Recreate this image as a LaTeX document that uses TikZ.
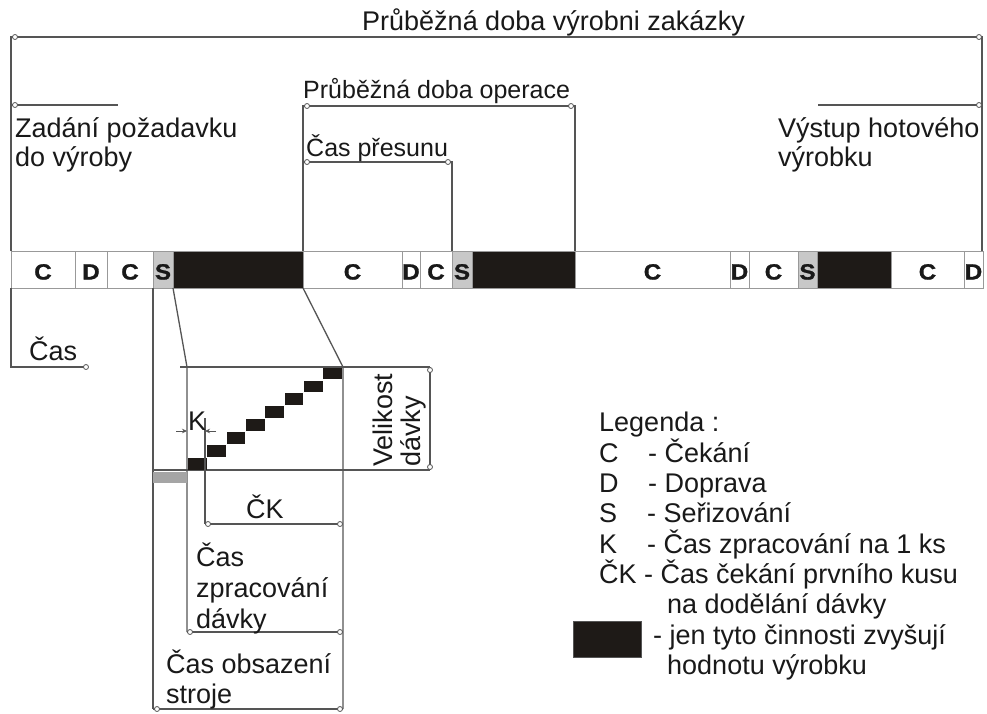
\documentclass[tikz,border=0pt]{standalone}
\usepackage{fontspec}
\setmainfont{Liberation Sans}
\newfontfamily\barfont{Liberation Sans}[BoldFeatures={FakeBold=1.2}]
\usetikzlibrary{arrows.meta}
\definecolor{lncol}{RGB}{85,85,85}
\definecolor{blk}{RGB}{30,26,23}
\definecolor{sgray}{RGB}{200,200,200}
\definecolor{bgray}{RGB}{165,165,165}
\definecolor{txt}{RGB}{25,25,25}
\begin{document}
\begin{tikzpicture}[x=1pt,y=-1pt,
  dim/.style={draw=lncol, line width=1.3pt},
  endc/.style={draw=lncol, fill=white, line width=0.8pt},
  lbl/.style={inner sep=0pt, anchor=base west, text=txt, font=\fontsize{27}{31}\selectfont},
  lbls/.style={lbl, font=\fontsize{25}{29}\selectfont},
  cellbox/.style={draw=lncol!60, line width=1pt},
  celltxt/.style={inner sep=0pt, anchor=base, text=txt, xscale=1.1, font=\barfont\fontsize{22}{26}\selectfont\bfseries},
]
\useasboundingbox[fill=white] (0,0) rectangle (987,713);

% ---------- bar of activities (0 white, 1 setup, 2 value-adding) ----------
\foreach \a/\b/\t/\k [count=\n] in {
  11/75/C/0, 75/107/D/0, 107/153/C/0, 153/173/S/1, 173/303//2,
  303/402/C/0, 402/420/D/0, 420/452/C/0, 452/472/S/1, 472/575//2,
  575/730/C/0, 730/749/D/0, 749/798/C/0, 798/817/S/1, 817/891//2,
  891/964/C/0, 964/983/D/0}{
  \ifcase\k
    \path[cellbox, fill=white] (\a,251) rectangle (\b,288);
  \or
    \path[cellbox, fill=sgray] (\a,251) rectangle (\b,288);
  \or
    \path[cellbox, fill=blk] (\a,251) rectangle (\b,288);
  \fi
  \node[celltxt] (cell\n) at ({(\a+\b)/2},279.5) {\t};
}

% ---------- top dimension lines ----------
\draw[dim] (11,251) -- (11,37) -- (982,37) -- (982,251);
\draw[endc] (15,37) circle[radius=2.5];
\draw[endc] (979,37) circle[radius=2.5];
\node[lbl] (total) at (362,30) {Průběžná doba výrobni zakázky};

\draw[dim] (11,105) -- (118,105);
\draw[endc] (15,105) circle[radius=2.5];
\node[lbl] (zad1) at (15,137) {Zadání požadavku};
\node[lbl] (zad2) at (15,166) {do výroby};

\draw[dim] (818,105) -- (982,105);
\draw[endc] (979,105) circle[radius=2.5];
\node[lbl] (vys1) at (778,137) {Výstup hotového};
\node[lbl] (vys2) at (778,166) {výrobku};

\draw[dim] (303,251) -- (303,106) -- (575,106) -- (575,251);
\draw[endc] (307,106) circle[radius=2.5];
\draw[endc] (571,106) circle[radius=2.5];
\node[lbls] (oper) at (303,98) {Průběžná doba operace};

\draw[dim] (303,162) -- (452,162) -- (452,251);
\draw[endc] (307,162) circle[radius=2.5];
\draw[endc] (448,162) circle[radius=2.5];
\node[lbls] (pres) at (306,156) {Čas přesunu};

% ---------- time axis ----------
\draw[dim] (11,288) -- (11,367) -- (84,367);
\draw[endc] (86,367) circle[radius=2.5];
\node[lbl] (cas) at (29,360) {Čas};

% ---------- detail of batch processing ----------
\draw[dim] (153,288) -- (153,709);
\draw[dim] (173,288) -- (187,367) -- (187,632);
\draw[dim] (303,288) -- (343,367) -- (343,709);
\draw[dim] (180,367) -- (430,367);
\draw[dim] (153,470) -- (430,470);
\draw[dim] (430,367) -- (430,470);
\draw[endc] (430,370) circle[radius=2.5];
\draw[endc] (430,467) circle[radius=2.5];
\fill[bgray] (153,472) rectangle (187,483);

\foreach \i in {0,...,7}{
  \fill[blk] ({188+19.35*\i},{469.5-12.9*\i}) rectangle ++(18.5,-11.6);
}

\node[lbl, rotate=90] (vel1) at (392,467) {Velikost};
\node[lbl, rotate=90] (vel2) at (420,467) {dávky};

% K dimension
\draw[dim] (205,418) -- (205,524);
\draw[draw=lncol, line width=0.8pt, -{Stealth[length=5pt,width=4.5pt]}] (176,431) -- (187,431);
\draw[draw=lncol, line width=0.8pt, -{Stealth[length=5pt,width=4.5pt]}] (216,431) -- (205,431);
\node[lbl] (k) at (188,430) {K};

% CK
\draw[dim] (205,524) -- (343,524);
\draw[endc] (208,524) circle[radius=2.5];
\draw[endc] (340,524) circle[radius=2.5];
\node[lbl] (ck) at (246,518) {ČK};

% processing time of batch
\draw[dim] (187,632) -- (343,632);
\draw[endc] (190,632) circle[radius=2.5];
\draw[endc] (340,632) circle[radius=2.5];
\node[lbl] (zpr1) at (196,566) {Čas};
\node[lbl] (zpr2) at (196,597) {zpracování};
\node[lbl] (zpr3) at (196,628) {dávky};

% machine occupation time
\draw[dim] (153,709) -- (343,709);
\draw[endc] (157,709) circle[radius=2.5];
\draw[endc] (340,709) circle[radius=2.5];
\node[lbl] (obs1) at (166,673) {Čas obsazení};
\node[lbl] (obs2) at (166,703) {stroje};

% ---------- legend ----------
\node[lbl] (leg) at (599,431) {Legenda :};
\node[lbl] (lc) at (599,462) {C};
\node[lbl] (lct) at (648,462) {- Čekání};
\node[lbl] (ld) at (599,492) {D};
\node[lbl] (ldt) at (648,492) {- Doprava};
\node[lbl] (ls) at (599,522) {S};
\node[lbl] (lst) at (647,522) {- Seřizování};
\node[lbl] (lk) at (599,553) {K};
\node[lbl] (lkt) at (647,553) {- Čas zpracování na 1 ks};
\node[lbl] (lck) at (599,583) {ČK - Čas čekání prvního kusu};
\node[lbl] (lck2) at (667,613) {na dodělání dávky};
\path[fill=blk, draw=lncol, line width=0.8pt] (573,621) rectangle (641,657);
\node[lbl] (lb) at (653,644) {- jen tyto činnosti zvyšují};
\node[lbl] (lb2) at (667,674) {hodnotu výrobku};
\end{tikzpicture}
\end{document}
